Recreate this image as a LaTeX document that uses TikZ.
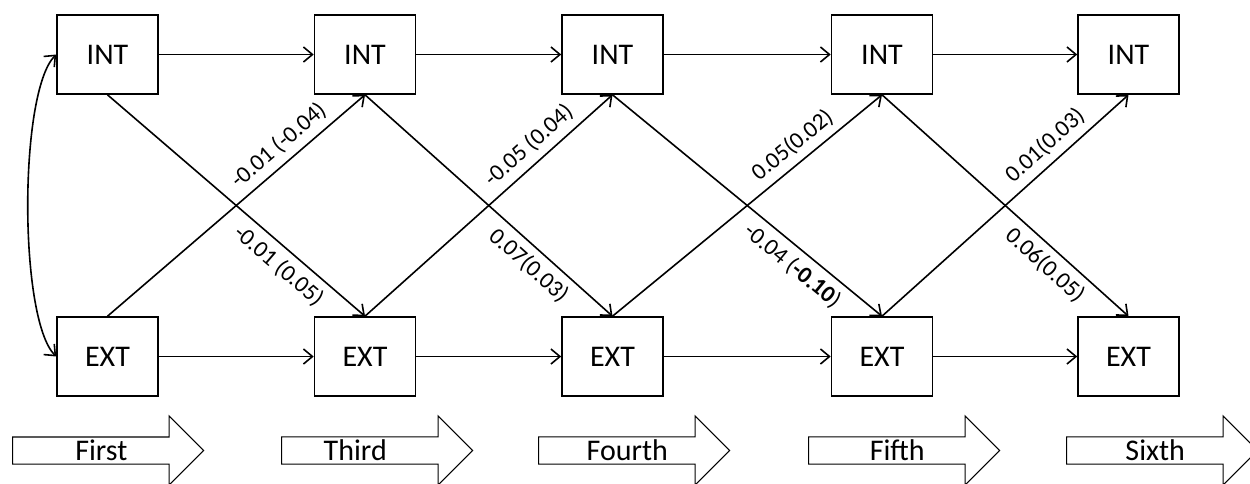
\documentclass[tikz,border=0pt]{standalone}
\usepackage{fontspec}
\setmainfont{Carlito}
\usetikzlibrary{arrows.meta,shapes.arrows}

\begin{document}
\begin{tikzpicture}[x=1pt,y=-1pt,->,>={Straight Barb[length=9pt,width=15pt]},
                    line width=1.6pt,auto]

  \tikzstyle{box}=[rectangle,draw,minimum width=101pt,minimum height=79pt,
                   font=\fontsize{30}{36}\selectfont]
  \tikzstyle{phase}=[single arrow,draw,line width=1.1pt,single arrow head extend=17pt,
                     minimum height=191pt,minimum width=69pt,inner sep=0pt,
                     font=\fontsize{30}{36}\selectfont]
  \tikzstyle{coef}=[sloped,pos=0.71,inner sep=7pt,font=\fontsize{23.5}{26}\selectfont]

  \useasboundingbox (0,0) rectangle (1250,483);

  \node[box] (INT1) at (107.5,54.5) {INT};
  \node[box] (INT2) at (365,54.5)   {INT};
  \node[box] (INT3) at (612.5,54.5) {INT};
  \node[box] (INT4) at (882,54.5)   {INT};
  \node[box] (INT5) at (1128.5,54.5){INT};

  \node[box] (EXT1) at (107.5,356.5) {EXT};
  \node[box] (EXT2) at (365,356.5)   {EXT};
  \node[box] (EXT3) at (612.5,356.5) {EXT};
  \node[box] (EXT4) at (882,356.5)   {EXT};
  \node[box] (EXT5) at (1128.5,356.5){EXT};

  \node[phase,anchor=west] (FIRST)  at (12,450.5)   {First};
  \node[phase,anchor=west] (THIRD)  at (281,450.5)  {Third\hspace*{30pt}};
  \node[phase,anchor=west] (FOURTH) at (538,450.5)  {Fourth};
  \node[phase,anchor=west] (FIFTH)  at (808,450.5)  {Fifth};
  \node[phase,anchor=west] (SIXTH)  at (1066,450.5) {Sixth};

  \path
  (INT1) edge (INT2)
  (INT2) edge (INT3)
  (INT3) edge (INT4)
  (INT4) edge (INT5)

  (EXT1) edge (EXT2)
  (EXT2) edge (EXT3)
  (EXT3) edge (EXT4)
  (EXT4) edge (EXT5)

  (INT1.west) edge [<->,out=225,in=135,looseness=0.45] (EXT1.west)

  (EXT1.north) edge node [coef]      {-0.01 (-0.04)} (INT2.south)
  (INT1.south) edge node [coef,swap] {-0.01 (0.05)}  (EXT2.north)
  (EXT2.north) edge node [coef]      {-0.05 (0.04)}  (INT3.south)
  (INT2.south) edge node [coef,swap] {0.07(0.03)}    (EXT3.north)
  (EXT3.north) edge node [coef]      {0.05(0.02)}    (INT4.south)
  (INT3.south) edge node [coef,swap] {-0.04 (\textbf{-0.10})} (EXT4.north)
  (EXT4.north) edge node [coef]      {0.01(0.03)}    (INT5.south)
  (INT4.south) edge node [coef,swap] {0.06(0.05)}    (EXT5.north)
  ;
\end{tikzpicture}
\end{document}
